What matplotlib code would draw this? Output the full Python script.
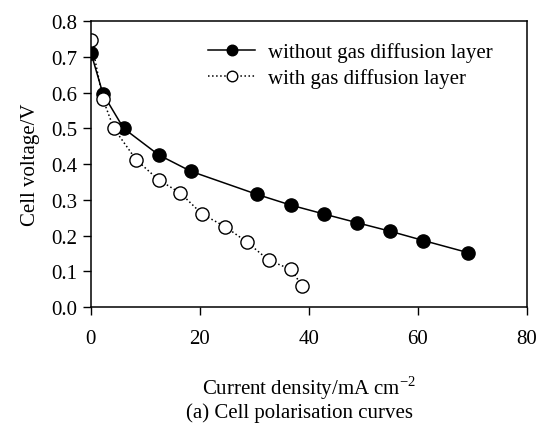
import matplotlib
matplotlib.use("Agg")
import matplotlib.pyplot as plt

x_without = [0.0, 2.2, 6.0, 12.4, 18.3, 30.5, 36.7, 42.8, 48.8, 54.9, 61.0, 69.2]
v_without = [0.712, 0.597, 0.500, 0.426, 0.380, 0.315, 0.285, 0.260, 0.236, 0.212, 0.186, 0.152]

x_with = [0.0, 2.2, 4.2, 8.3, 12.4, 16.4, 20.4, 24.6, 28.6, 32.6, 36.7, 38.7]
v_with = [0.748, 0.582, 0.500, 0.412, 0.356, 0.319, 0.260, 0.225, 0.182, 0.131, 0.105, 0.060]

xticks = [0, 20, 40, 60, 80]
yticks = [0.0, 0.1, 0.2, 0.3, 0.4, 0.5, 0.6, 0.7, 0.8]

plt.rcParams['font.family'] = ['Liberation Serif', 'DejaVu Serif']
fs = 15
fig = plt.figure(figsize=(5.38, 4.35), dpi=100)
ax = fig.add_axes([0.169, 0.292, 0.8106, 0.657])

ax.plot(x_without, v_without, '-', color='black', lw=1.1, marker='o', ms=9.5,
        mfc='black', mec='black', label='without gas diffusion layer')
ax.plot(x_with, v_with, ':', color='black', lw=1.1, marker='o', ms=9.5,
        mfc='white', mec='black', mew=1.0, label='with gas diffusion layer')

ax.set_xlim(0, 80)
ax.set_ylim(0, 0.8)
ax.set_xticks(xticks)
ax.set_yticks(yticks)
ax.set_yticklabels([f"{v:.1f}" for v in yticks])
ax.tick_params(direction='out', length=6, width=1, labelsize=fs, top=False, right=False)
ax.tick_params(axis='x', pad=10)
ax.tick_params(axis='y', pad=4)
for s in ax.spines.values():
    s.set_linewidth(1.1)

ax.set_ylabel('Cell voltage/V', fontsize=fs, labelpad=8)
ax.set_xlabel('Current density/mA cm$^{\\mathregular{-2}}$', fontsize=fs, labelpad=18)
fig.text(0.556, 0.05, '(a) Cell polarisation curves', ha='center', va='center', fontsize=fs)

leg = ax.legend(loc='upper left', bbox_to_anchor=(0.25, 0.955), frameon=False, fontsize=fs,
                handlelength=2.25, handletextpad=0.6, labelspacing=0.3, borderaxespad=0,
                markerscale=0.8)

fig.savefig('out.png', dpi=100)
